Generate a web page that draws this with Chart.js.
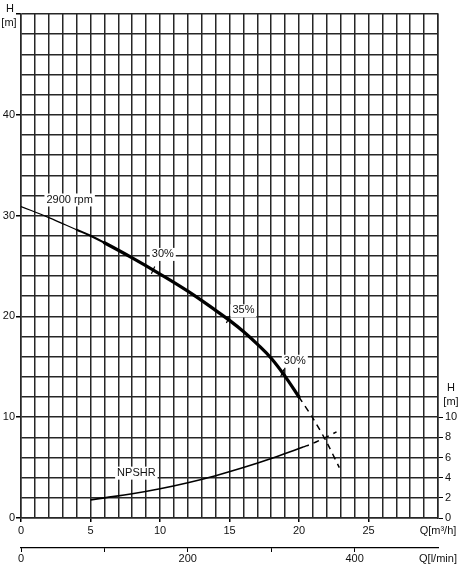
<!DOCTYPE html>
<html><head><meta charset="utf-8">
<script src="https://cdn.jsdelivr.net/npm/chart.js@4/dist/chart.umd.min.js"></script>
<style>html,body{margin:0;padding:0;background:#fff;}</style>
</head><body>
<canvas id="c" width="460" height="567"></canvas>
<script>
// ---- data ----
const flowM3h   = [0, 2, 4, 5, 6, 8, 10, 12, 14, 15, 16, 17, 18, 19, 20];
const headM     = [30.9, 29.8, 28.6, 28.0, 27.3, 25.8, 24.2, 22.5, 20.6, 19.6, 18.5, 17.25, 15.85, 14.05, 12.0];
const flowExt   = [20, 21, 22, 22.9];
const headExt   = [12.0, 9.9, 7.5, 5.0];
const npshFlow  = [5, 6, 8, 10, 12, 14, 16, 18, 20, 20.3];
const npshR     = [1.8, 2.0, 2.4, 2.9, 3.5, 4.2, 5.0, 5.9, 6.9, 7.05];
const npshFlowExt = [20.3, 21, 22, 22.7];
const npshRExt    = [7.05, 7.4, 8.05, 8.55];
const effFlow   = [9.5, 14.9, 18.8];
const effHead   = [24.6, 19.7, 14.4];
const effLabels = ['30%', '35%', '30%'];
const leftTicks  = [0, 10, 20, 30, 40];
const rightTicks = [0, 2, 4, 6, 8, 10];
const flowTicks  = [0, 5, 10, 15, 20, 25];
const lminTicks  = [0, 200, 400];
const flowUnit = 'Q[m³/h]';
const lminUnit = 'Q[l/min]';
const headTitle = ['H', '[m]'];
// annotation texts: [Q, H, text]
const noteQ = [3.5, 10.2, 16.0, 19.7, 8.3];
const noteH = [31.6, 26.2, 20.6, 15.6, 4.5];
const noteT = ['2900 rpm', effLabels[0], effLabels[1], effLabels[2], 'NPSHR'];

const FONT = '"Liberation Sans", Arial, sans-serif';
const GRID = '#262626';
const pts = (xs, ys) => xs.map((x, i) => ({x, y: ys[i]}));

const notesPlugin = {
  id: 'notes',
  beforeDatasetsDraw(chart) {
    const ctx = chart.ctx, xs = chart.scales.x, ys = chart.scales.y;
    ctx.save();
    ctx.font = '11px ' + FONT;
    ctx.textAlign = 'center';
    ctx.textBaseline = 'middle';
    noteT.forEach((t, i) => {
      const px = xs.getPixelForValue(noteQ[i]), py = ys.getPixelForValue(noteH[i]);
      const w = ctx.measureText(t).width;
      ctx.fillStyle = '#fff';
      ctx.fillRect(px - w / 2 - 2, py - 6, w + 4, 13);
      ctx.fillStyle = '#111';
      ctx.fillText(t, px, py);
    });
    ctx.restore();
  },
  afterDraw(chart) {
    const ctx = chart.ctx, ys = chart.scales.y, y2 = chart.scales.y2;
    ctx.save();
    ctx.font = '11px ' + FONT;
    ctx.textAlign = 'center';
    ctx.textBaseline = 'middle';
    ctx.fillStyle = '#111';
    const top = ys.getPixelForValue(50);
    ctx.fillText(headTitle[0], 10, top - 5);
    ctx.fillText(headTitle[1], 9, top + 9);
    const r10 = y2.getPixelForValue(10);
    const rx = chart.chartArea.right + 13;
    ctx.fillText(headTitle[0], rx, r10 - 29);
    ctx.fillText(headTitle[1], rx, r10 - 15);
    ctx.restore();
  }
};

new Chart(document.getElementById('c'), {
  type: 'line',
  data: {
    datasets: [
      { data: pts(flowM3h, headM), borderColor: '#000', pointRadius: 0,
        borderWidth: 3, tension: 0.4, borderCapStyle: 'round', borderJoinStyle: 'round',
        segment: { borderWidth: c => c.p0.parsed.x < 4 ? 1.2 : (c.p0.parsed.x < 6 ? 2 : 3.3) } },
      { data: pts(flowExt, headExt), borderColor: '#000', pointRadius: 0,
        borderWidth: 1.5, borderDash: [6, 5], tension: 0.3 },
      { data: pts(npshFlow, npshR), yAxisID: 'y2', borderColor: '#000', pointRadius: 0,
        borderWidth: 1.6, tension: 0.4 },
      { data: pts(npshFlowExt, npshRExt), yAxisID: 'y2', borderColor: '#000', pointRadius: 0,
        borderWidth: 1.5, borderDash: [6, 5], tension: 0.3 },
      { data: pts(effFlow, effHead), showLine: false, pointStyle: 'line', pointRadius: 4,
        rotation: -65, borderColor: '#000', pointBorderWidth: 1.2 }
    ]
  },
  options: {
    responsive: false,
    animation: false,
    events: [],
    layout: { padding: { top: 14, left: 0, right: 0, bottom: 0 } },
    plugins: { legend: { display: false }, tooltip: { enabled: false } },
    scales: {
      x: {
        type: 'linear', position: 'bottom', min: 0, max: 30,
        afterFit: s => { s.height = 30; },
        ticks: { stepSize: 1, maxTicksLimit: 100, autoSkip: false, maxRotation: 0, padding: 2,
                 color: '#111', font: { family: FONT, size: 11 },
                 callback: v => v === 30 ? flowUnit : (flowTicks.includes(v) ? String(v) : '') },
        grid: { color: GRID, lineWidth: 1.5, tickLength: 4,
                tickColor: c => (c.tick && flowTicks.includes(c.tick.value)) ? '#000' : 'rgba(0,0,0,0)' },
        border: { color: GRID, width: 1.5 }
      },
      x2: {
        type: 'linear', position: 'bottom', min: 0, max: 500,
        afterFit: s => { s.height = 19; },
        ticks: { stepSize: 100, maxTicksLimit: 100, autoSkip: false, maxRotation: 0, padding: 0,
                 color: '#111', font: { family: FONT, size: 11 },
                 callback: v => v === 500 ? lminUnit : (lminTicks.includes(v) ? String(v) : '') },
        grid: { drawOnChartArea: false, tickLength: 4, lineWidth: 1,
                tickColor: c => (c.tick && c.tick.value === 500) ? 'rgba(0,0,0,0)' : '#000' },
        border: { color: '#000', width: 1.2 }
      },
      y: {
        type: 'linear', position: 'left', min: 0, max: 50,
        afterFit: s => { s.width = 21; },
        ticks: { stepSize: 2, maxTicksLimit: 100, autoSkip: false, padding: 1,
                 color: '#111', font: { family: FONT, size: 11 },
                 callback: v => leftTicks.includes(v) ? String(v) : '' },
        grid: { color: GRID, lineWidth: 1.5, tickLength: 5,
                tickColor: c => (c.tick && (leftTicks.includes(c.tick.value) || c.tick.value === 50)) ? '#000' : 'rgba(0,0,0,0)' },
        border: { color: GRID, width: 1.5 }
      },
      y2: {
        type: 'linear', position: 'right', min: 0, max: 50,
        afterFit: s => { s.width = 22; },
        afterBuildTicks: s => { s.ticks = rightTicks.map(v => ({ value: v })); },
        ticks: { padding: 2, color: '#111', font: { family: FONT, size: 11 },
                 callback: v => String(v) },
        grid: { drawOnChartArea: false, tickLength: 5, tickColor: '#000', lineWidth: 1 },
        border: { color: GRID, width: 1.5 }
      }
    }
  },
  plugins: [notesPlugin]
});
</script>
</body></html>
